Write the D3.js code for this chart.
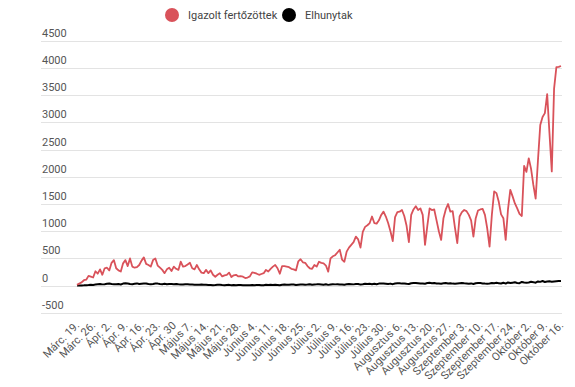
<!DOCTYPE html>
<meta charset="utf-8">
<style>
body { margin: 0; background: #fff; }
svg { font-family: Roboto, "Noto Sans", sans-serif; }
.grid line { stroke: #e3e3e3; stroke-width: 1px; }
.ylab { fill: #555; font-size: 11px; }
.xlab { fill: #555; font-size: 11px; }
.legend text { fill: #444; font-size: 11px; }
</style>
<svg width="575" height="387"></svg>
<script src="https://cdn.jsdelivr.net/npm/d3@7"></script>
<script>

// tick labels under the chart, one every 7 days
var dateLabels = ["Márc. 19.", "Márc. 26.", "Ápr. 2.", "Ápr. 9.", "Ápr. 16.", "Ápr. 23.", "Ápr. 30",
  "Május 7.", "Május 14.", "Május 21.", "Május 28.", "Június 4.", "Június 11.", "Június 18.",
  "Június 25.", "Július 2.", "Július 9.", "Július 16.", "Július 23.", "Július 30.",
  "Augusztus 6.", "Augusztus 13.", "Augusztus 20.", "Augusztus 27.", "Szeptember 3.",
  "Szeptember 10.", "Szeptember 17.", "Szeptember 24.", "Október 2.", "Október 9.", "Október 16."];

var yTicks = [-500, 0, 500, 1000, 1500, 2000, 2500, 3000, 3500, 4000, 4500];

var seriesNames = ["Igazolt fertőzöttek", "Elhunytak"];

// daily confirmed cases (one row = one week)
var confirmed = [
  15, 40, 60, 100, 110, 180, 165,
  150, 265, 220, 300, 200, 320, 330,
  280, 420, 470, 320, 280, 260, 410,
  470, 360, 500, 350, 330, 340, 380,
  460, 520, 400, 380, 350, 470, 500,
  370, 330, 290, 230, 300, 330, 270,
  350, 310, 290, 440, 350, 360, 390,
  420, 320, 300, 380, 300, 240, 230,
  290, 230, 280, 200, 165, 200, 230,
  170, 190, 200, 240, 160, 190, 200,
  170, 175, 165, 140, 150, 170, 245,
  235, 220, 200, 215, 230, 290, 260,
  310, 350, 380, 320, 220, 360, 360,
  350, 340, 310, 300, 280, 445, 485,
  430, 420, 360, 320, 310, 380, 350,
  440, 420, 410, 370, 257, 500, 540,
  560, 610, 660, 480, 440, 625, 700,
  750, 800, 900, 850, 700, 990, 1080,
  1110, 1150, 1270, 1150, 1140, 1200, 1300,
  1360, 1270, 1150, 1000, 820, 1260, 1350,
  1360, 1390, 1280, 1100, 800, 1300, 1400,
  1460, 1390, 1420, 1300, 750, 1100, 1420,
  1390, 1400, 1200, 1000, 840, 1240, 1400,
  1500, 1360, 1370, 1060, 780, 1270, 1350,
  1390, 1370, 1300, 1200, 900, 1240, 1380,
  1400, 1410, 1300, 1050, 716, 1300, 1730,
  1700, 1540, 1310, 1240, 840, 1400, 1760,
  1640, 1510, 1420, 1320, 1280, 2200, 2090,
  2340, 2150, 1850, 1600, 2300, 2950, 3100,
  3170, 3520, 2800, 2100, 3620, 4016, 4020,
  4035
];

// daily deaths
var deaths = [
  2, 4, 5, 7, 10, 12, 17,
  14, 20, 25, 30, 24, 28, 35,
  40, 30, 28, 25, 30, 22, 38,
  45, 40, 30, 28, 35, 42, 30,
  35, 38, 40, 30, 25, 32, 40,
  38, 30, 28, 35, 25, 30, 32,
  28, 30, 25, 22, 20, 28, 25,
  22, 20, 18, 15, 18, 20, 16,
  15, 12, 14, 10, 12, 16, 15,
  12, 10, 14, 15, 8, 12, 10,
  14, 12, 10, 8, 6, 10, 12,
  10, 12, 14, 8, 10, 15, 12,
  15, 12, 18, 14, 10, 16, 20,
  18, 15, 20, 22, 14, 18, 20,
  22, 18, 20, 25, 16, 20, 24,
  25, 22, 18, 26, 15, 22, 28,
  24, 28, 20, 22, 18, 25, 30,
  28, 24, 30, 32, 20, 26, 35,
  30, 34, 28, 36, 25, 38, 40,
  42, 36, 30, 38, 28, 40, 44,
  46, 38, 42, 35, 30, 45, 48,
  50, 44, 38, 42, 36, 48, 52,
  46, 50, 40, 38, 34, 44, 48,
  42, 46, 38, 35, 40, 45, 50,
  44, 40, 36, 42, 32, 46, 50,
  48, 42, 38, 35, 40, 50, 45,
  52, 46, 40, 55, 38, 60, 48,
  55, 62, 50, 45, 68, 58, 52,
  60, 72, 65, 55, 78, 70, 85,
  68, 75, 80, 72, 78, 82, 85,
  88
];

var colors = ["#d9525a", "#000000"];

var svg = d3.select("svg");

var x = d3.scaleLinear().domain([0, confirmed.length - 1]).range([77, 561]);
var y = d3.scaleLinear().domain([-500, 4500]).range([312.9, 40.7]);

// horizontal grid + labels sitting on top of each line
var grid = svg.append("g").attr("class", "grid");
grid.selectAll("line")
  .data(yTicks)
  .enter().append("line")
    .attr("x1", 41).attr("x2", 562)
    .attr("y1", function(d) { return Math.round(y(d)) + 0.5; })
    .attr("y2", function(d) { return Math.round(y(d)) + 0.5; });

svg.append("g").selectAll("text")
  .data(yTicks)
  .enter().append("text")
    .attr("class", "ylab")
    .attr("x", 42)
    .attr("y", function(d) { return y(d) - 4; })
    .text(function(d) { return d; });

// x labels, rotated
svg.append("g").selectAll("text")
  .data(dateLabels)
  .enter().append("text")
    .attr("class", "xlab")
    .attr("text-anchor", "end")
    .attr("transform", function(d, i) {
      return "translate(" + (x(i * 7) + 3) + ",326) rotate(-45)";
    })
    .text(function(d) { return d; });

var line = d3.line()
  .x(function(d, i) { return x(i); })
  .y(function(d) { return y(d); });

svg.append("path")
  .datum(deaths)
  .attr("fill", "none")
  .attr("stroke", colors[1])
  .attr("stroke-width", 2)
  .attr("stroke-linejoin", "round")
  .attr("d", line);

svg.append("path")
  .datum(confirmed)
  .attr("fill", "none")
  .attr("stroke", colors[0])
  .attr("stroke-width", 1.8)
  .attr("stroke-linejoin", "round")
  .attr("d", line);

// legend
var legendX = [172, 289];
var legend = svg.append("g").attr("class", "legend");
var item = legend.selectAll("g")
  .data(seriesNames)
  .enter().append("g")
    .attr("transform", function(d, i) { return "translate(" + legendX[i] + ",15)"; });
item.append("circle")
  .attr("r", 7)
  .attr("fill", function(d, i) { return colors[i]; });
item.append("text")
  .attr("x", 16)
  .attr("y", 4)
  .text(function(d) { return d; });

</script>
